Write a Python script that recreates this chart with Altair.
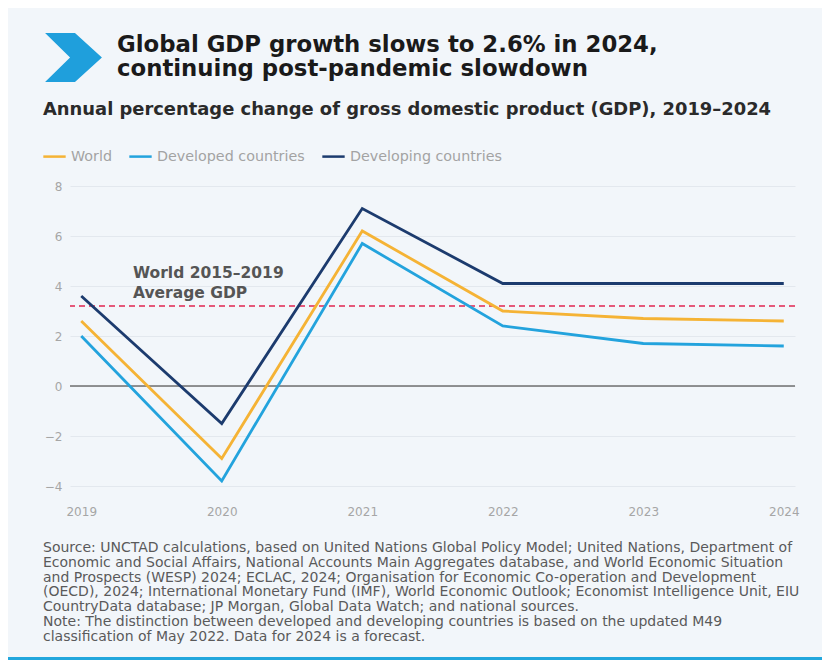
import altair as alt
import pandas as pd

years = ["2019", "2020", "2021", "2022", "2023", "2024"]
world = [2.6, -2.9, 6.2, 3.0, 2.7, 2.6]
developed = [2.0, -3.8, 5.7, 2.4, 1.7, 1.6]
developing = [3.6, -1.5, 7.1, 4.1, 4.1, 4.1]
series_names = ["World", "Developed countries", "Developing countries"]
series_colors = ["#f5b335", "#23a3dd", "#1c3b6e"]
avg_2015_2019 = 3.2
y_ticks = [-4, -2, 0, 2, 4, 6, 8]

title_1 = "Global GDP growth slows to 2.6% in 2024,"
title_2 = "continuing post-pandemic slowdown"
subtitle = "Annual percentage change of gross domestic product (GDP), 2019–2024"
annotation = ["World 2015–2019", "Average GDP"]
source_lines = [
    "Source: UNCTAD calculations, based on United Nations Global Policy Model; United Nations, Department of",
    "Economic and Social Affairs, National Accounts Main Aggregates database, and World Economic Situation",
    "and Prospects (WESP) 2024; ECLAC, 2024; Organisation for Economic Co-operation and Development",
    "(OECD), 2024; International Monetary Fund (IMF), World Economic Outlook; Economist Intelligence Unit, EIU",
    "CountryData database; JP Morgan, Global Data Watch; and national sources.",
    "Note: The distinction between developed and developing countries is based on the updated M49",
    "classification of May 2022. Data for 2024 is a forecast.",
]

rows = []
for name, vals in zip(series_names, [world, developed, developing]):
    for y, v in zip(years, vals):
        rows.append({"year": y, "value": v, "series": name})
df = pd.DataFrame(rows)
one = pd.DataFrame({"k": [0]})

FONT = "DejaVu Sans"

x_enc = alt.X("year:O", sort=years,
              scale=alt.Scale(type="point", padding=0.08),
              axis=alt.Axis(title=None, labelAngle=0, labelColor="#a6a6a6", labelFontSize=12,
                            labelPadding=10, ticks=False, domain=False, grid=False))
y_scale = alt.Scale(domain=[-4.4, 8], nice=False, zero=False)

lines = alt.Chart(df).mark_line(strokeWidth=2.8).encode(
    x=x_enc,
    y=alt.Y("value:Q", scale=y_scale,
            axis=alt.Axis(title=None, values=y_ticks, labelColor="#a6a6a6", labelFontSize=12,
                          labelPadding=8, ticks=False, domain=False, grid=True,
                          gridColor="#e3e8ee", gridWidth=1.2)),
    color=alt.Color("series:N", sort=series_names,
                    scale=alt.Scale(domain=series_names, range=series_colors),
                    legend=alt.Legend(title=None, orient="none", direction="horizontal",
                                      legendX=-28, legendY=-42, symbolType="stroke",
                                      symbolStrokeWidth=2.5, symbolSize=500,
                                      labelColor="#a3a3a3", labelFontSize=14.3, labelFont=FONT,
                                      columnPadding=12, symbolOffset=0)),
    detail="series:N",
)

zero = alt.Chart(one).mark_rule(color="#6f6f6f", strokeWidth=1.5).encode(
    y=alt.Y("z:Q", scale=y_scale)).transform_calculate(z="0")

avg = alt.Chart(pd.DataFrame({"v": [avg_2015_2019]})).mark_rule(
    color="#e5597a", strokeWidth=2, strokeDash=[6, 4]).encode(y=alt.Y("v:Q", scale=y_scale))

ann = alt.Chart(one).mark_text(align="left", baseline="middle", fontSize=15.5, fontWeight="bold",
                               color="#555555", font=FONT, lineBreak="\n", lineHeight=20).encode(
    x=alt.value(63), y=alt.value(87), text=alt.value("\n".join(annotation)))

chevron = alt.Chart(one).mark_point(
    shape="M -1.16 -1 L 0.06 -1 L 1.16 0 L 0.06 1 L -1.16 1 L -0.14 0 Z",
    filled=True, opacity=1, color="#1f9fdc", size=2401).encode(
    x=alt.value(3.5), y=alt.value(-128.5))

t1 = alt.Chart(one).mark_text(align="left", baseline="middle", fontSize=22.8, fontWeight="bold",
                              color="#1a1a1a", font=FONT).encode(
    x=alt.value(47), y=alt.value(-141), text=alt.value(title_1))
t2 = alt.Chart(one).mark_text(align="left", baseline="middle", fontSize=22.8, fontWeight="bold",
                              color="#1a1a1a", font=FONT).encode(
    x=alt.value(47), y=alt.value(-117), text=alt.value(title_2))
sub = alt.Chart(one).mark_text(align="left", baseline="middle", fontSize=17.9, fontWeight="bold",
                               color="#2a2a2a", font=FONT).encode(
    x=alt.value(-27), y=alt.value(-76), text=alt.value(subtitle))

src = alt.Chart(one).mark_text(align="left", baseline="middle", fontSize=14, color="#5a5a5a",
                               font=FONT, lineBreak="\n", lineHeight=14.8).encode(
    x=alt.value(-27), y=alt.value(362), text=alt.value("\n".join(source_lines)))

bar = alt.Chart(one).mark_rect(color="#22a7dd").encode(
    x=alt.value(-62), x2=alt.value(752), y=alt.value(471), y2=alt.value(477))

chart = alt.layer(avg, zero, lines, ann, chevron, t1, t2, sub, src, bar).properties(
    width=725, height=310,
    autosize=alt.AutoSizeParams(type="none"),
    padding={"left": 62, "top": 178, "right": 27, "bottom": 164},
    background="#f2f6fa",
).configure_view(stroke=None, clip=False).configure_axis(labelFont=FONT)

chart.save("out.html", embed_options={"renderer": "svg", "actions": False})
